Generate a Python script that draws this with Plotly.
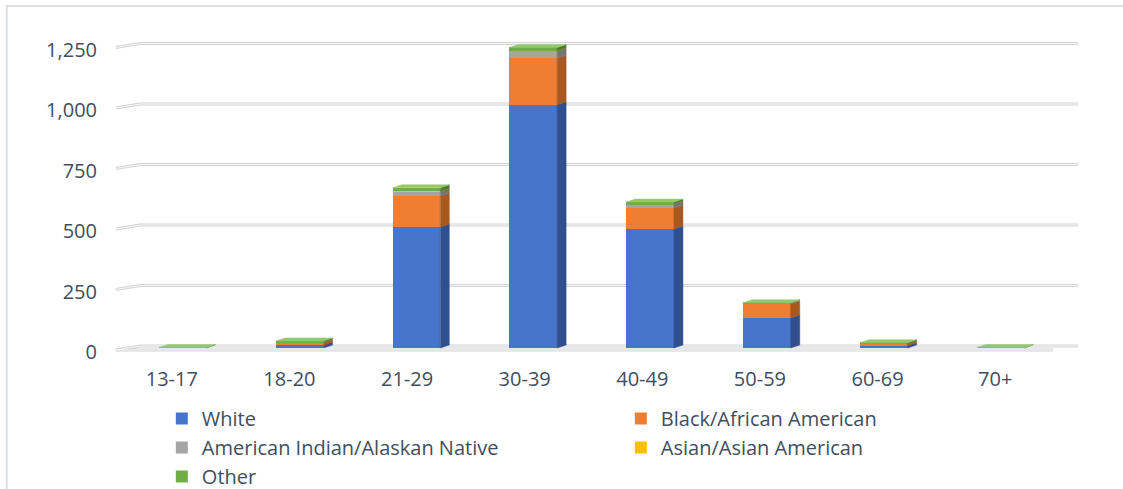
import plotly.graph_objects as go

# ---- data -------------------------------------------------------------
age_groups = ["13-17", "18-20", "21-29", "30-39", "40-49", "50-59", "60-69", "70+"]
white = [0, 12, 500, 1005, 492, 124, 9, 0]
black = [0, 10, 128, 192, 86, 58, 8, 0]
aian = [0, 2, 19, 31, 16, 2, 1, 0]
asian = [0, 0, 1, 1, 1, 0, 0, 0]
other = [2, 5, 14, 13, 8, 3, 4, 2]
y_ticks = [0, 250, 500, 750, 1000, 1250]

series = [
    ("White", white, "#4675CB", "#2F4F8F", "#6E94DA"),
    ("Black/African American", black, "#EF7E32", "#A9581F", "#F4A46B"),
    ("American Indian/Alaskan Native", aian, "#A5A5A5", "#747474", "#C6C6C6"),
    ("Asian/Asian American", asian, "#FFC000", "#B58800", "#FFD550"),
    ("Other", other, "#70AD47", "#4E7A31", "#94C870"),
]

# ---- geometry (pixels of the 1123x489 canvas) ------------------------
W, H = 1123, 489
L_PX, R_PX = 113.2, 1053.8          # front plot area, horizontal
TOP_PX, BOT_PX = 30.0, 360.0        # plot area, vertical
ZERO_PX, K = 348.0, 0.242           # pixel of value 0, pixels per unit
CAT_PX = (R_PX - L_PX) / len(age_groups)
y_range = [(ZERO_PX - BOT_PX) / K, (ZERO_PX - TOP_PX) / K]

BAR_W = 0.405                       # bar width in category units
DEPTH_X = 9 / CAT_PX                # 3D depth, horizontal
DEPTH_Y = 3 / K                     # 3D depth, vertical
WALL_SHIFT = 2 / K                  # back wall sits 2px above the front plane

FONT = "Open Sans"
TEXT = "#404E60"


def paper_x(px):
    return (px - L_PX) / (R_PX - L_PX)


def paper_y(py):
    return (BOT_PX - py) / (BOT_PX - TOP_PX)


# perspective: bars on the left sit a little further right of their label
offsets = [-BAR_W / 2 + (11 - 0.8 * i) / CAT_PX for i in range(len(age_groups))]
x_idx = list(range(len(age_groups)))

fig = go.Figure()

# front faces: stacked bars
for name, vals, front, side, top in series:
    fig.add_trace(go.Bar(
        x=x_idx, y=vals, name=name, width=BAR_W, offset=offsets,
        marker=dict(color=front, line=dict(width=0)),
        hovertemplate="%{y}<extra>" + name + "</extra>",
    ))

# side and top faces of the 3D columns
base = [0.0] * len(age_groups)
top_val = [sum(s[1][i] for s in series) for i in range(len(age_groups))]
for name, vals, front, side, top in series:
    sx, sy = [], []
    tx, ty = [], []
    for i, v in enumerate(vals):
        if v <= 0:
            continue
        b, t = base[i], base[i] + v
        xr = x_idx[i] + offsets[i] + BAR_W
        xl = x_idx[i] + offsets[i]
        sx += [xr, xr + DEPTH_X, xr + DEPTH_X, xr, xr, None]
        sy += [b, b + DEPTH_Y, t + DEPTH_Y, t, b, None]
        if abs(t - top_val[i]) < 1e-9:
            tx += [xl, xr, xr + DEPTH_X, xl + DEPTH_X, xl, None]
            ty += [t, t, t + DEPTH_Y, t + DEPTH_Y, t, None]
        base[i] = t
    if sx:
        fig.add_trace(go.Scatter(x=sx, y=sy, mode="lines", fill="toself",
                                 fillcolor=side, line=dict(color=side, width=0.5),
                                 hoverinfo="skip", showlegend=False))
    if tx:
        fig.add_trace(go.Scatter(x=tx, y=ty, mode="lines", fill="toself",
                                 fillcolor=top, line=dict(color=top, width=0.5),
                                 hoverinfo="skip", showlegend=False))

# back-wall gridlines with their side-wall slant, drawn as light tubes
shapes = []
xf0, xb0, xb1, xf1 = paper_x(116), paper_x(140), paper_x(1078), paper_x(1053)
for v in y_ticks:
    yf, yb = v - WALL_SHIFT, v + WALL_SHIFT
    if v == 0:
        path = f"M{xf1},{yf} L{xf0},{yf} L{xb0},{yb} L{xb1},{yb}"
    else:
        path = f"M{xf0},{yf} L{xb0},{yb} L{xb1},{yb}"
    for color, width in (("#D3D4D6", 3.2), ("#F7F7F7", 1.2)):
        shapes.append(dict(type="path", path=path, xref="paper", yref="y",
                           line=dict(color=color, width=width), layer="below"))

# chart frame
shapes.append(dict(type="rect", xref="paper", yref="paper",
                   x0=paper_x(7), x1=paper_x(1140), y0=paper_y(520), y1=paper_y(6),
                   line=dict(color="#DCE0E5", width=2), layer="below"))

fig.update_layout(
    width=W, height=H,
    margin=dict(l=L_PX, r=W - R_PX, t=TOP_PX, b=H - BOT_PX, pad=0, autoexpand=False),
    paper_bgcolor="white", plot_bgcolor="rgba(0,0,0,0)",
    barmode="stack", bargap=0,
    shapes=shapes,
    font=dict(family=FONT, size=21, color=TEXT),
    xaxis=dict(range=[-0.5, len(age_groups) - 0.5], tickvals=x_idx, ticktext=age_groups,
               showgrid=False, zeroline=False, showline=False, ticks="",
               ticklabelstandoff=5, tickfont=dict(family=FONT, size=20, color=TEXT),
               fixedrange=True),
    yaxis=dict(range=y_range, tickvals=y_ticks, tickformat=",d",
               showgrid=False, zeroline=False, showline=False, ticks="",
               ticklabelstandoff=15, ticklabelshift=4,
               tickfont=dict(family=FONT, size=20, color=TEXT),
               fixedrange=True),
    legend=dict(orientation="h", traceorder="normal",
                x=paper_x(162), xanchor="left", y=paper_y(399), yanchor="top",
                entrywidth=414, entrywidthmode="pixels",
                font=dict(family=FONT, size=20, color=TEXT),
                itemclick=False, itemdoubleclick=False, tracegroupgap=0),
    showlegend=True,
)

fig.write_html("out.html")
